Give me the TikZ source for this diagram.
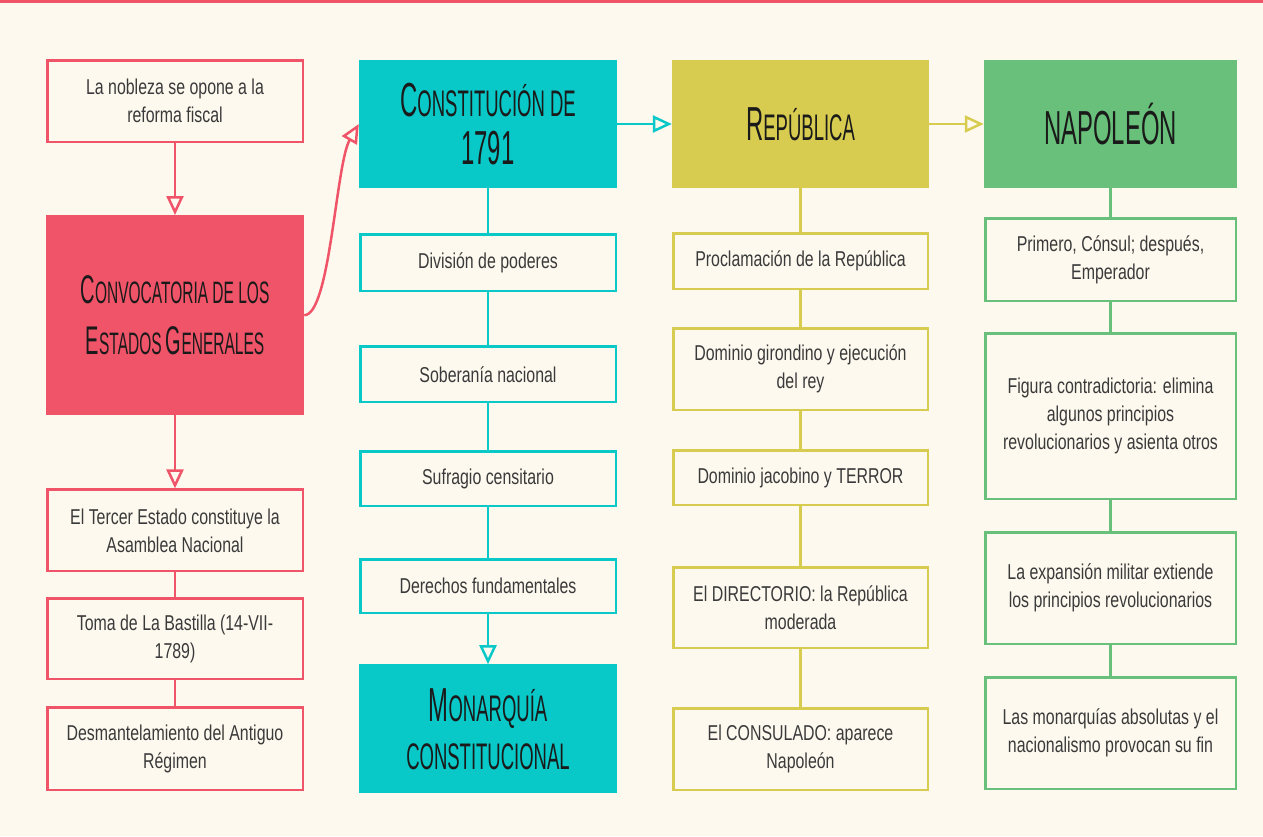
\documentclass[tikz,border=0pt]{standalone}
\usepackage{fontspec}
\usepackage{graphicx}
\usepackage{tikz}
\usetikzlibrary{
    arrows.meta,
    positioning
}
\newfontfamily\bodyfont[FakeStretch=0.74]{Liberation Sans}
\newfontfamily\headfont[FakeStretch=0.5]{Liberation Sans}
\newcommand\scbig[1]{\scalebox{1.29}{#1}}

\definecolor{cream}{HTML}{FDF9EF}
\definecolor{redc}{HTML}{F05468}
\definecolor{cyanc}{HTML}{08C8C8}
\definecolor{yellowc}{HTML}{D8CC50}
\definecolor{greenc}{HTML}{68C07A}
\definecolor{bodytext}{HTML}{3A3A3A}
\definecolor{headtext}{HTML}{1A1A1A}

\begin{document}
\begin{tikzpicture}[
    x=1pt, y=1pt,
    headbox/.style  = {rectangle, inner sep=0pt, align=center, text=headtext,
                       minimum width=258pt, minimum height=128pt,
                       font=\headfont\fontsize{37}{48}\selectfont},
    itembox/.style  = {rectangle, fill=cream, line width=2.5pt, inner sep=0pt,
                       align=center, text=bodytext, minimum width=255.5pt,
                       font=\bodyfont\fontsize{21.5}{28}\selectfont},
    redbox/.style    = {itembox, draw=redc},
    cyanbox/.style   = {itembox, draw=cyanc},
    yellowbox/.style = {itembox, draw=yellowc, minimum width=254.5pt},
    greenbox/.style  = {itembox, draw=greenc, minimum width=250.5pt},
    link/.style     = {line width=2.5pt},
    linkarrow/.style = {link, -{Triangle[open, length=19pt, width=17pt]}},
]
    %Background
    \fill[cream] (0,0) rectangle (1263,-836);
    \fill[redc] (0,0) rectangle (1263,-3);
    \useasboundingbox (0,0) rectangle (1263,-836);

    %Nodes: first column
    \node[redbox, minimum height=81.5pt]  (nobleza)      at (175,-101)
        {La nobleza se opone a la\\reforma fiscal};
    \node[headbox, fill=redc, minimum height=200pt,
          font=\headfont\fontsize{31}{51}\selectfont]
                                          (convocatoria) [below=72pt of nobleza]
        {\scbig{C}ONVOCATORIA DE LOS\\\scbig{E}STADOS \scbig{G}ENERALES};
    \node[redbox, minimum height=81.5pt]  (tercer)       [below=73pt of convocatoria]
        {El Tercer Estado constituye la\\Asamblea Nacional};
    \node[redbox, minimum height=80.5pt]  (bastilla)     [below=25pt of tercer]
        {Toma de La Bastilla (14-VII-\\1789)};
    \node[redbox, minimum height=82.5pt]  (antiguo)      [below=26pt of bastilla]
        {Desmantelamiento del Antiguo\\Régimen};

    %Nodes: second column
    \node[headbox, fill=cyanc]            (constitucion) at (488,-124)
        {\scbig{C}ONSTITUCIÓN DE\\\scbig{1791}};
    \node[cyanbox, minimum height=56.5pt] (poderes)      [below=45pt of constitucion]
        {División de poderes};
    \node[cyanbox, minimum height=55.5pt] (soberania)    [below=53pt of poderes]
        {Soberanía nacional};
    \node[cyanbox, minimum height=54.5pt] (sufragio)     [below=47pt of soberania]
        {Sufragio censitario};
    \node[cyanbox, minimum height=53.5pt] (derechos)     [below=51pt of sufragio]
        {Derechos fundamentales};
    \node[headbox, fill=cyanc, minimum height=129pt]
                                          (monarquia)    [below=50pt of derechos]
        {\scbig{M}ONARQUÍA\\CONSTITUCIONAL};

    %Nodes: third column
    \node[headbox, fill=yellowc, minimum width=257pt] (republica) at (800.5,-124)
        {\scbig{R}EPÚBLICA};
    \node[yellowbox, minimum height=55.5pt] (proclamacion) [below=44pt of republica]
        {Proclamación de la República};
    \node[yellowbox, minimum height=81.5pt] (girondino)    [below=37pt of proclamacion]
        {Dominio girondino y ejecución\\del rey};
    \node[yellowbox, minimum height=54.5pt] (jacobino)     [below=38pt of girondino]
        {Dominio jacobino y TERROR};
    \node[yellowbox, minimum height=80.5pt] (directorio)   [below=60pt of jacobino]
        {El DIRECTORIO: la República\\moderada};
    \node[yellowbox, minimum height=81.5pt] (consulado)    [below=58pt of directorio]
        {El CONSULADO: aparece\\Napoleón};

    %Nodes: fourth column
    \node[headbox, fill=greenc, minimum width=253pt] (napoleon) at (1110.5,-124)
        {\scbig{NAPOLEÓN}};
    \node[greenbox, minimum height=82.5pt]  (consul)     [below=29pt of napoleon]
        {Primero, Cónsul; después,\\Emperador};
    \node[greenbox, minimum height=165.5pt] (figura)     [below=30pt of consul]
        {Figura contradictoria: elimina\\algunos principios\\revolucionarios y asienta otros};
    \node[greenbox, minimum height=111.5pt] (expansion)  [below=31pt of figura]
        {La expansión militar extiende\\los principios revolucionarios};
    \node[greenbox, minimum height=111.5pt] (fin)        [below=31pt of expansion]
        {Las monarquías absolutas y el\\nacionalismo provocan su fin};

    %Lines
    \draw[linkarrow, redc] (nobleza.south) -- (convocatoria.north);
    \draw[linkarrow, redc] (convocatoria.south) -- (tercer.north);
    \draw[link, redc] (tercer.south) -- (bastilla.north);
    \draw[link, redc] (bastilla.south) -- (antiguo.north);
    \draw[linkarrow, redc] (convocatoria.east) ..
              controls +(26pt,0pt) and +(-23pt,-40pt)
              .. (constitucion.west);

    \foreach \a/\b in {constitucion/poderes, poderes/soberania,
                       soberania/sufragio, sufragio/derechos}
        \draw[link, cyanc] (\a.south) -- (\b.north);
    \draw[linkarrow, cyanc] (derechos.south) -- (monarquia.north);
    \draw[linkarrow, cyanc] (constitucion.east) -- (republica.west);

    \foreach \a/\b in {republica/proclamacion, proclamacion/girondino,
                       girondino/jacobino, jacobino/directorio, directorio/consulado}
        \draw[link, yellowc] (\a.south) -- (\b.north);
    \draw[linkarrow, yellowc] (republica.east) -- (napoleon.west);

    \foreach \a/\b in {napoleon/consul, consul/figura,
                       figura/expansion, expansion/fin}
        \draw[link, greenc] (\a.south) -- (\b.north);
\end{tikzpicture}
\end{document}
